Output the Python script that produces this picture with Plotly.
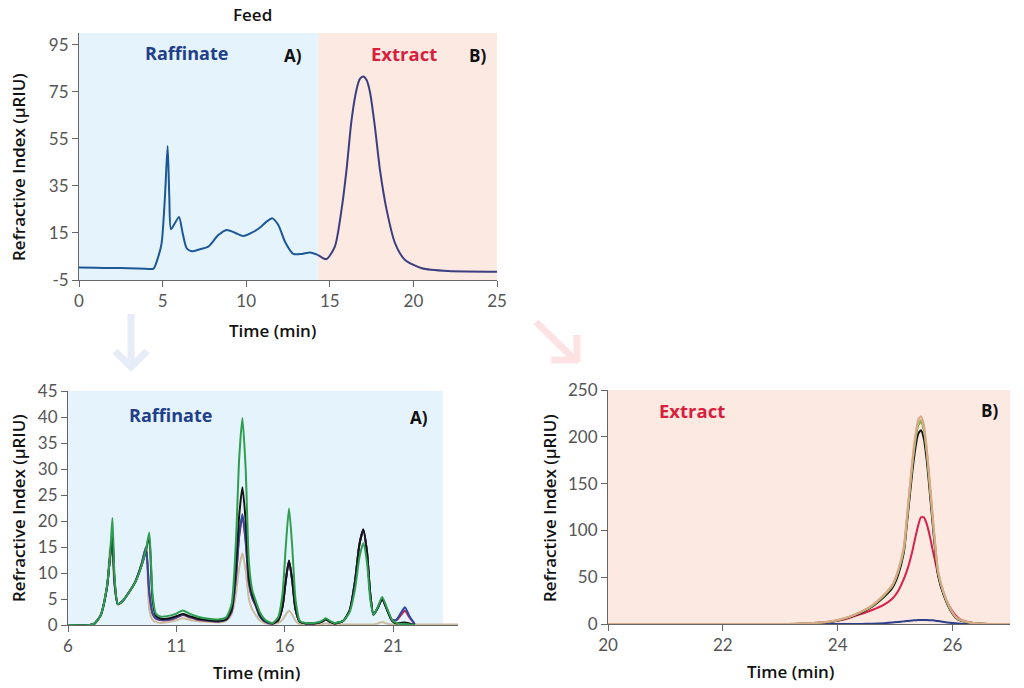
import plotly.graph_objects as go

# ---------------- data: Feed chromatogram (top) ----------------
FEED_T = [0, 1.0, 2.0, 3.0, 4.0, 4.45, 4.74, 4.94, 5.14, 5.3, 5.4, 5.5, 5.74, 5.98,
          6.2, 6.44, 6.74, 7.24, 7.73, 8.33, 8.83, 9.33, 9.83, 10.33, 10.83, 11.22,
          11.56, 11.92, 12.32, 12.82, 13.32, 13.82, 14.31, 14.8, 15.3, 15.7, 16.0,
          16.3, 16.6, 16.8, 17.0, 17.2, 17.4, 17.7, 18.0, 18.4, 18.9, 19.5, 20.5, 22.1, 25.0]
FEED_V = [0.3, 0.2, 0.1, 0.0, -0.2, -0.2, 4.9, 10.6, 30.4, 52, 30.4, 16.6, 19.2, 21.8,
          14.9, 8.5, 7.2, 8.1, 9.2, 14.1, 16.3, 15.1, 13.7, 15.1, 17.3, 19.8,
          21.2, 18.4, 11.3, 6.1, 6.1, 6.7, 5.6, 3.9, 9.2, 24.8, 41.8,
          63, 76, 80.5, 81.5, 80, 75, 60, 41.8, 24.8, 10.7, 3.5, 0.0, -1.2, -1.5]
FEED_SPLIT = 14.31  # raffinate / extract cut
FEED_XTICKS = [0, 5, 10, 15, 20, 25]
FEED_YTICKS = [-5, 15, 35, 55, 75, 95]

# ---------------- data: Raffinate (bottom-left) ----------------
RAF_T = [6.0, 7.0, 7.2, 7.5, 7.8, 7.95, 8.05, 8.15, 8.3, 8.5, 8.8, 9.1, 9.4, 9.6, 9.75,
         9.9, 10.05, 10.3, 10.7, 11.0, 11.3, 11.6, 12.0, 12.5, 13.0, 13.3, 13.55, 13.75,
         13.9, 14.05, 14.2, 14.35, 14.5, 14.65, 14.85, 15.05, 15.25, 15.45, 15.7, 15.9,
         16.05, 16.2, 16.35, 16.5, 16.7, 17.0, 17.5, 17.75, 17.9, 18.05, 18.3, 18.7,
         19.0, 19.25, 19.45, 19.63, 19.8, 19.95, 20.1, 20.3, 20.5, 20.7, 20.95, 21.15,
         21.35, 21.55, 21.75, 22.0, 23.0, 24.0]
RAF_GREEN = [0, 0, 0.2, 1.8, 7.5, 14, 20.6, 9, 4.0, 4.5, 6.2, 8.2, 11.5, 14.5, 17.8,
             6, 2.2, 1.6, 1.8, 2.2, 2.8, 2.2, 1.6, 1.2, 1.1, 1.5, 4, 16,
             32, 39.8, 30, 12, 6.8, 4.8, 2.5, 1.2, 0.6, 0.4, 1.5, 6,
             15, 22.4, 15, 5, 0.8, 0.4, 0.5, 0.9, 1.3, 0.9, 0.4, 0.8,
             2.5, 7, 13, 15.7, 12, 5, 2.0, 3.5, 5.4, 3.5, 1.0, 0.4,
             0.2, 0.2, 0.1, 0, None, None]
RAF_BLACK = [0, 0, 0.2, 1.8, 7.3, 13.5, 17.5, 8.5, 4.0, 4.5, 6.2, 8.2, 11.5, 14.3, 17.0,
             5, 1.8, 1.2, 1.3, 1.7, 2.1, 1.7, 1.2, 0.9, 0.8, 1.1, 3, 11,
             21, 26.5, 20, 9, 5.8, 4.2, 2.0, 0.9, 0.5, 0.3, 0.9, 3.5,
             8.5, 12.4, 8.5, 3, 0.6, 0.3, 0.4, 0.7, 1.1, 0.7, 0.3, 0.8,
             2.8, 8.5, 15.5, 18.4, 14, 6, 2.0, 3.3, 5.0, 3.2, 0.8, 0.3,
             0.4, 0.5, 0.3, 0, None, None]
RAF_BLUE = [0, 0, 0.2, 1.8, 7.3, 13.5, 15.8, 8, 4.0, 4.5, 6.2, 8.3, 11.8, 14.9, 6.5,
            2.3, 1.3, 1.0, 1.1, 1.5, 2.0, 1.6, 1.1, 0.8, 0.7, 1.0, 2.6, 9.2,
            17.3, 21.3, 16.3, 8.2, 5.3, 3.9, 1.7, 0.8, 0.4, 0.3, 0.9, 3.5,
            8.5, 12.3, 8.5, 3, 0.6, 0.3, 0.4, 0.7, 1.1, 0.7, 0.3, 0.8,
            2.8, 8.5, 15.5, 18.2, 14, 6, 2.0, 3.3, 5.0, 3.2, 1.0, 1.0,
            2.2, 3.4, 1.8, 0.2, None, None]
RAF_RED = [0, 0, 0.2, 1.8, 7.3, 13.5, 15.5, 8, 4.0, 4.5, 6.2, 8.3, 11.8, 15.0, 6,
           2.2, 1.2, 0.9, 1.0, 1.4, 1.9, 1.5, 1.0, 0.8, 0.7, 1.0, 2.5, 9,
           17, 20.9, 16, 8, 5.2, 3.8, 1.7, 0.8, 0.4, 0.3, 0.9, 3.5,
           8.5, 12.3, 8.5, 3, 0.6, 0.3, 0.4, 0.7, 1.1, 0.7, 0.3, 0.8,
           2.8, 8.5, 15.5, 18.2, 14, 6, 2.0, 3.3, 5.0, 3.2, 1.0, 0.9,
           1.8, 2.75, 1.5, 0.2, None, None]
RAF_TAN = [0, 0, 0.2, 1.8, 7.5, 15.2, 13, 7, 4.0, 4.5, 6.2, 8.2, 11.5, 14.3, 3,
           1.0, 0.6, 0.4, 0.6, 0.9, 1.3, 1.0, 0.7, 0.6, 0.5, 0.8, 2, 6,
           11, 13.8, 10.5, 5, 3, 2, 0.9, 0.4, 0.2, 0.2, 0.4, 1.0,
           2.0, 2.75, 2.0, 0.8, 0.2, 0.1, 0.1, 0.2, 0.3, 0.2, 0.1, 0.1,
           0.1, 0.1, 0.1, 0.1, 0.1, 0.1, 0.1, 0.3, 0.6, 0.3, 0.1, 0.1,
           0.1, 0.1, 0.1, 0.1, 0.1, 0.1]
RAF_XTICKS = [6, 11, 16, 21]
RAF_YTICKS = [0, 5, 10, 15, 20, 25, 30, 35, 40, 45]

# ---------------- data: Extract (bottom-right) ----------------
EXT_T = [20, 23.0, 23.4, 23.8, 24.0, 24.2, 24.4, 24.6, 24.8, 24.95, 25.05, 25.15, 25.2,
         25.25, 25.3, 25.35, 25.4, 25.45, 25.5, 25.55, 25.6, 25.65, 25.7, 25.75, 25.85,
         25.95, 26.05, 26.15, 26.3, 26.5, 27.0]
EXT_TAN = [0, 0, 0.5, 2.2, 4.2, 7.7, 13, 20, 31, 42, 57, 82, 111,
           144, 175, 201, 218, 222, 213, 188, 154, 118, 84, 56, 33,
           18, 8, 4, 1.5, 0.3, 0]
EXT_OLIVE = [0, 0, 0.5, 2.2, 4.1, 7.6, 12.8, 19.6, 30.5, 41, 56, 80, 109,
             141, 172, 197, 214, 218, 209, 185, 151, 116, 82, 55, 32,
             17.5, 7.8, 3.9, 1.5, 0.3, 0]
EXT_GREEN = [0, 0, 0.5, 2.1, 4.0, 7.5, 12.6, 19.4, 30, 40.5, 55, 79, 108,
             140, 170, 195, 212, 216, 207, 183, 150, 115, 81, 54, 32,
             17, 7.7, 3.8, 1.4, 0.3, 0]
EXT_BLACK = [0, 0, 0.4, 2.0, 3.8, 7.1, 12, 18.5, 28.5, 38.5, 52, 76, 104,
             134, 163, 187, 203, 207, 198, 175, 143, 109, 77, 51, 30,
             16, 7, 3.4, 1.3, 0.3, 0]
EXT_RED = [0, 0, 0.4, 1.8, 3.5, 6.5, 10.5, 15, 20.5, 27, 35, 48, 56,
           66, 78, 92, 105, 114, 114, 107, 95, 80, 66, 52, 31,
           18.5, 9.5, 4.5, 1.6, 0.3, 0]
EXT_BLUE = [0, 0, 0, 0, 0, 0, 0.1, 0.4, 0.9, 1.5, 2.1, 2.8, 3.1,
            3.5, 3.8, 4.0, 4.2, 4.3, 4.3, 4.3, 4.1, 3.9, 3.5, 3.1, 2.2,
            1.4, 0.8, 0.4, 0.1, 0, 0]
EXT_XTICKS = [20, 22, 24, 26]
EXT_YTICKS = [0, 50, 100, 150, 200, 250]

# ---------------- styling ----------------
W, H = 1024, 688
BLUE_BG = "#e5f3fc"
PINK_BG = "#fce9e2"
TFONT = "Open Sans"
C_RAF = "#1f3f8a"
C_EXT = "#d81e3c"


def px(x):
    return x / W


def py(y):
    return 1 - y / H


fig = go.Figure()

k = FEED_T.index(FEED_SPLIT)
fig.add_trace(go.Scatter(x=FEED_T[:k + 1], y=FEED_V[:k + 1], mode="lines",
                         line=dict(color="#1d5896", width=2, shape="spline", smoothing=0.7),
                         xaxis="x", yaxis="y", showlegend=False))
fig.add_trace(go.Scatter(x=FEED_T[k:], y=FEED_V[k:], mode="lines",
                         line=dict(color="#3b3f7f", width=2, shape="spline", smoothing=0.7),
                         xaxis="x", yaxis="y", showlegend=False))

raf_series = [
    (RAF_TAN, "#c9bc9f"),
    (RAF_RED, "#c8245a"),
    (RAF_BLUE, "#2c4c9e"),
    (RAF_BLACK, "#151515"),
    (RAF_GREEN, "#2e9e50"),
]
for vals, col in raf_series:
    fig.add_trace(go.Scatter(x=RAF_T, y=vals, mode="lines",
                             line=dict(color=col, width=2, shape="spline", smoothing=0.6),
                             xaxis="x2", yaxis="y2", showlegend=False))

ext_series = [
    (EXT_BLUE, "#2c3f8a"),
    (EXT_RED, "#d8204a"),
    (EXT_BLACK, "#151515"),
    (EXT_GREEN, "#6aa84f"),
    (EXT_OLIVE, "#b7b463"),
    (EXT_TAN, "#d9a88a"),
]
for vals, col in ext_series:
    fig.add_trace(go.Scatter(x=EXT_T, y=vals, mode="lines",
                             line=dict(color=col, width=2, shape="spline", smoothing=0.6),
                             xaxis="x3", yaxis="y3", showlegend=False))

axis_common = dict(showgrid=False, zeroline=False, showline=True, linecolor="#666",
                   linewidth=1, ticks="outside", ticklen=6, tickcolor="#666",
                   automargin=False,
                   tickfont=dict(family="Lato", size=17, color="#555"))


def ticks(vals):
    return dict(tickmode="array", tickvals=vals, ticktext=[str(v) for v in vals])


fig.update_layout(
    width=W, height=H, margin=dict(l=0, r=0, t=0, b=0, autoexpand=False),
    paper_bgcolor="white", plot_bgcolor="white",
    xaxis=dict(domain=[px(79), px(497)], range=[0, 25], anchor="y",
               **ticks(FEED_XTICKS), **axis_common),
    yaxis=dict(domain=[py(280), py(33)], range=[-5, 100], anchor="x",
               **ticks(FEED_YTICKS), **axis_common),
    xaxis2=dict(domain=[px(68), px(458)], range=[6, 24], anchor="y2",
                **ticks(RAF_XTICKS), **axis_common),
    yaxis2=dict(domain=[py(625), py(391)], range=[0, 45], anchor="x2",
                **ticks(RAF_YTICKS), **axis_common),
    xaxis3=dict(domain=[px(608), px(1010)], range=[20, 27], anchor="y3",
                **ticks(EXT_XTICKS), **axis_common),
    yaxis3=dict(domain=[py(624), py(390)], range=[0, 250], anchor="x3",
                **ticks(EXT_YTICKS), **axis_common),
)

shapes = [
    dict(type="rect", xref="x", yref="y", x0=0, x1=FEED_SPLIT, y0=-5, y1=100,
         fillcolor=BLUE_BG, line=dict(width=0), layer="below"),
    dict(type="rect", xref="x", yref="y", x0=FEED_SPLIT, x1=25, y0=-5, y1=100,
         fillcolor=PINK_BG, line=dict(width=0), layer="below"),
    dict(type="rect", xref="x2", yref="y2", x0=6, x1=23.3, y0=0, y1=45,
         fillcolor=BLUE_BG, line=dict(width=0), layer="below"),
    dict(type="rect", xref="x3", yref="y3", x0=20, x1=27, y0=0, y1=250,
         fillcolor=PINK_BG, line=dict(width=0), layer="below"),
]
ARW_B = "#e6edf7"
ARW_P = "#fce2e3"
for (x0, y0, x1, y1, c) in [
    (131, 314, 131, 366, ARW_B), (115, 351, 133, 369, ARW_B), (147, 351, 129, 369, ARW_B),
    (536, 322, 573, 358, ARW_P), (551, 360, 578, 360, ARW_P), (577, 335, 577, 362, ARW_P),
]:
    shapes.append(dict(type="line", xref="paper", yref="paper", x0=px(x0), y0=py(y0),
                       x1=px(x1), y1=py(y1), line=dict(color=c, width=7)))
fig.update_layout(shapes=shapes)

ann = []


def text(x, y, s, size=16, color="#111", angle=0, weight=600):
    ann.append(dict(xref="paper", yref="paper", x=px(x), y=py(y), text=s,
                    showarrow=False, textangle=angle, xanchor="center", yanchor="middle",
                    font=dict(family=TFONT, size=size, color=color, weight=weight)))


text(252, 14, "Feed", 17)
text(186, 53, "Raffinate", 18, C_RAF, weight="bold")
text(293, 55, "A)", 17, weight="bold")
text(404, 53, "Extract", 18.5, C_EXT, weight="bold")
text(477, 55, "B)", 17, weight="bold")
text(170, 415, "Raffinate", 18, C_RAF, weight="bold")
text(419, 417, "A)", 17, weight="bold")
text(692, 411, "Extract", 18.5, C_EXT, weight="bold")
text(989, 411, "B)", 17, weight="bold")

text(272, 330, "Time (min)", 17)
text(256, 672, "Time (min)", 17)
text(790, 671, "Time (min)", 17)
text(18, 167, "Refractive Index (µRIU)", 17, angle=-90)
text(18, 508, "Refractive Index (µRIU)", 17, angle=-90)
text(549, 508, "Refractive Index (µRIU)", 17, angle=-90)

fig.update_layout(annotations=ann)
fig.write_html("out.html")
